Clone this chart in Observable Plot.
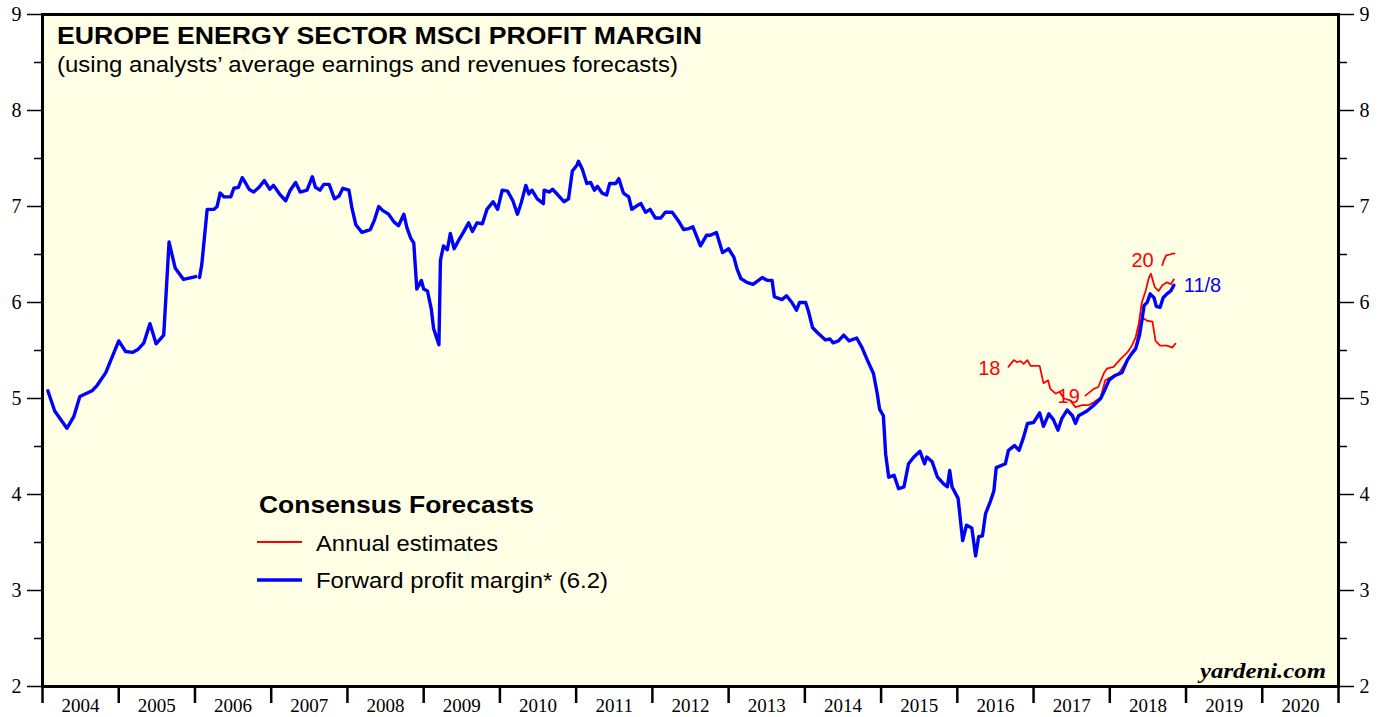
<!DOCTYPE html>
<html><head><meta charset="utf-8">
<script src="https://cdn.jsdelivr.net/npm/d3@7"></script>
<script src="https://cdn.jsdelivr.net/npm/@observablehq/plot@0.6"></script>
<style>html,body{margin:0;padding:0;background:#fff;overflow:hidden}</style>
</head><body><div id="chart"></div>
<script>
// Forward profit margin (blue), decimal year / percent
const blueT = [
2004.07,2004.16,2004.32,2004.41,2004.49,2004.65,2004.72,2004.83,2005.00,2005.09,2005.18,2005.25,2005.33,2005.41,2005.49,2005.59,2005.66,2005.74,2005.85,2006.01,
2006.03,
2006.06,2006.09,2006.16,2006.25,2006.29,2006.33,2006.38,2006.47,2006.51,2006.57,2006.62,2006.66,2006.71,2006.77,2006.84,2006.91,2006.98,
2007.03,2007.11,2007.19,2007.25,2007.32,2007.38,2007.47,2007.54,2007.58,2007.64,2007.69,2007.76,2007.83,2007.89,2007.94,
2008.02,2008.06,2008.11,2008.19,2008.30,2008.35,2008.41,2008.46,2008.54,2008.61,2008.67,2008.74,2008.78,2008.83,2008.87,2008.91,2008.97,
2009.00,2009.05,2009.10,2009.13,2009.20,2009.22,2009.26,2009.31,2009.35,2009.40,2009.46,2009.52,2009.59,2009.64,2009.70,2009.77,2009.83,2009.91,2009.97,
2010.03,2010.10,2010.17,2010.23,2010.28,2010.34,2010.38,2010.42,2010.49,2010.57,2010.58,2010.65,2010.69,2010.75,2010.84,2010.90,2010.95,
2011.01,2011.03,2011.08,2011.14,2011.19,2011.24,2011.28,2011.34,2011.40,2011.44,2011.52,2011.56,2011.62,2011.69,2011.73,2011.80,2011.85,2011.91,2011.97,
2012.04,2012.11,2012.17,2012.26,2012.35,2012.41,2012.48,2012.53,2012.63,2012.71,2012.76,2012.84,2012.92,
2013.00,2013.07,2013.11,2013.16,2013.24,2013.32,2013.44,2013.51,2013.57,2013.60,2013.70,2013.76,2013.83,2013.89,2013.93,
2014.01,2014.05,2014.10,2014.16,2014.27,2014.33,2014.37,2014.44,2014.51,2014.58,2014.68,2014.75,2014.82,2014.90,2014.95,2014.98,
2015.03,2015.06,2015.10,2015.17,2015.23,2015.30,2015.36,2015.43,2015.51,2015.57,2015.60,2015.67,2015.74,2015.82,2015.87,2015.90,2015.93,
2016.01,2016.07,2016.12,2016.19,2016.24,2016.28,2016.33,2016.37,2016.43,2016.48,2016.51,2016.63,2016.67,2016.75,2016.81,2016.87,2016.92,
2017.00,2017.08,2017.13,2017.20,2017.26,2017.32,2017.37,2017.44,2017.51,2017.55,2017.59,2017.70,2017.79,2017.88,2017.94,2017.99,
2018.07,2018.16,2018.23,2018.29,2018.34,2018.39,2018.42,2018.45,2018.49,2018.53,2018.58,2018.61,2018.66,2018.70,2018.75,2018.80,2018.84
];
const blueV = [
5.08,4.87,4.69,4.81,5.02,5.08,5.14,5.27,5.60,5.49,5.48,5.51,5.58,5.78,5.57,5.66,6.63,6.36,6.24,6.27,
NaN,
6.26,6.40,6.97,6.97,7.00,7.14,7.10,7.10,7.19,7.20,7.30,7.25,7.18,7.15,7.20,7.27,7.18,
7.22,7.13,7.06,7.17,7.25,7.15,7.17,7.31,7.20,7.17,7.23,7.23,7.08,7.11,7.19,
7.17,6.98,6.81,6.73,6.76,6.85,7.00,6.96,6.92,6.84,6.80,6.92,6.78,6.67,6.62,6.14,6.23,
6.14,6.12,5.93,5.73,5.56,6.44,6.59,6.55,6.72,6.56,6.65,6.73,6.83,6.74,6.83,6.82,6.97,7.05,6.97,
7.17,7.16,7.06,6.92,7.04,7.22,7.13,7.17,7.08,7.03,7.17,7.15,7.18,7.13,7.05,7.08,7.37,
7.43,7.47,7.39,7.24,7.25,7.17,7.21,7.14,7.12,7.24,7.24,7.29,7.14,7.10,6.97,7.01,7.03,6.94,6.97,
6.88,6.88,6.94,6.94,6.84,6.76,6.77,6.79,6.59,6.70,6.70,6.73,6.52,
6.56,6.47,6.35,6.25,6.21,6.19,6.26,6.23,6.23,6.06,6.03,6.07,6.00,5.92,6.00,
6.00,5.90,5.74,5.69,5.61,5.62,5.58,5.60,5.66,5.60,5.63,5.53,5.40,5.26,5.05,4.89,
4.82,4.42,4.18,4.20,4.06,4.08,4.32,4.39,4.45,4.32,4.39,4.34,4.18,4.11,4.08,4.25,4.08,
3.96,3.52,3.68,3.65,3.36,3.56,3.57,3.80,3.92,4.04,4.28,4.32,4.46,4.51,4.46,4.60,4.74,
4.75,4.85,4.71,4.84,4.78,4.67,4.79,4.88,4.82,4.74,4.82,4.87,4.93,5.00,5.10,5.19,
5.24,5.27,5.40,5.47,5.52,5.66,5.81,5.97,6.00,6.09,6.05,5.96,5.95,6.05,6.09,6.12,6.18
];

// Annual estimates (red)
const est18T = [2016.67,2016.74,2016.78,2016.83,2016.87,2016.92,2016.96,2017.08,2017.13,2017.19,2017.22,2017.29,2017.34,2017.40,2017.48,2017.55,2017.64,2017.72,2017.79,2017.88,2017.94,2018.01,2018.12,2018.21,2018.27,2018.34,2018.38,2018.40,2018.45,2018.49,2018.56,2018.60,2018.66,2018.75,2018.82,2018.86];
const est18V = [5.33,5.40,5.38,5.39,5.36,5.40,5.34,5.34,5.16,5.19,5.10,5.05,5.07,5.00,4.98,4.91,4.93,4.93,4.96,5.01,5.19,5.22,5.26,5.38,5.45,5.53,5.71,5.81,5.83,5.81,5.80,5.60,5.55,5.55,5.53,5.57];
const est19T = [2017.68,2017.79,2017.85,2017.92,2017.96,2018.05,2018.14,2018.23,2018.29,2018.34,2018.38,2018.42,2018.47,2018.51,2018.54,2018.59,2018.64,2018.69,2018.75,2018.80,2018.84];
const est19V = [5.03,5.10,5.12,5.26,5.31,5.33,5.41,5.48,5.55,5.64,5.78,6.00,6.12,6.25,6.30,6.16,6.12,6.18,6.21,6.19,6.24];
const est20T = [2018.69,2018.71,2018.74,2018.79,2018.82,2018.85];
const est20V = [6.39,6.44,6.49,6.50,6.51,6.51];

const estLabels = ["18","19","20"];
const estLabelT = [2016.42,2017.46,2018.43];
const estLabelV = [5.31,5.02,6.44];
const lastLabel = "11/8";
const lastLabelT = 2018.97;
const lastLabelV = 6.18;

const yMajor = [2,3,4,5,6,7,8,9];
const yMinor = [2.5,3.5,4.5,5.5,6.5,7.5,8.5];
const yearBounds = d3.range(2004, 2022);
const yearLabels = d3.range(2004, 2021);

const titleText = "EUROPE ENERGY SECTOR MSCI PROFIT MARGIN";
const subtitleText = "(using analysts’ average earnings and revenues forecasts)";
const legendTitle = "Consensus Forecasts";
const legendItems = ["Annual estimates", "Forward profit margin* (6.2)"];
const sourceText = "yardeni.com";

const BG = "#ffffe6";
const RED = "#ff0000";
const BLUE = "#0000ff";
const SERIF = "'Liberation Serif', 'DejaVu Serif', serif";
const SANS = "'Liberation Sans', Arial, Helvetica, sans-serif";

const blue = blueT.map((t, i) => ({t, v: blueV[i]}));
const red = [
  ...est18T.map((t, i) => ({t, v: est18V[i], s: "18"})),
  ...est19T.map((t, i) => ({t, v: est19V[i], s: "19"})),
  ...est20T.map((t, i) => ({t, v: est20V[i], s: "20"}))
];
const labels = estLabels.map((s, i) => ({s, t: estLabelT[i], v: estLabelV[i]}));

const chart = Plot.plot({
  width: 1384,
  height: 717,
  marginLeft: 42,
  marginRight: 46,
  marginTop: 14,
  marginBottom: 31,
  style: {fontFamily: SERIF, fontSize: "20px", background: "#fff", color: "#000"},
  x: {domain: [2004, 2021], axis: null},
  y: {domain: [2, 9], axis: null},
  marks: [
    Plot.frame({fill: BG, stroke: null}),
    Plot.line(red, {x: "t", y: "v", z: "s", stroke: RED, strokeWidth: 1.8, strokeLinejoin: "round"}),
    Plot.line(blue, {x: "t", y: "v", stroke: BLUE, strokeWidth: 3.4, strokeLinejoin: "round", strokeLinecap: "round"}),
    Plot.text(labels, {x: "t", y: "v", text: "s", fill: RED, fontFamily: SANS, fontSize: 20, textAnchor: "middle"}),
    Plot.text([lastLabel], {x: () => lastLabelT, y: () => lastLabelV, text: d => d, fill: BLUE, fontFamily: SANS, fontSize: 20, textAnchor: "start"}),
    Plot.frame({stroke: "#000", strokeWidth: 3}),
    Plot.axisY({ticks: yMajor, anchor: "left", tickSize: 15, tickPadding: 6, strokeWidth: 1.5, fontSize: 20, label: null, tickFormat: d => String(d)}),
    Plot.axisY({ticks: yMinor, anchor: "left", tickSize: 8, strokeWidth: 1.5, label: null, tickFormat: () => ""}),
    Plot.axisY({ticks: yMajor, anchor: "right", tickSize: 15, tickPadding: 6, strokeWidth: 1.5, fontSize: 20, label: null, tickFormat: d => String(d)}),
    Plot.axisY({ticks: yMinor, anchor: "right", tickSize: 8, strokeWidth: 1.5, label: null, tickFormat: () => ""}),
    Plot.axisX({ticks: yearBounds, anchor: "bottom", tickSize: 17, strokeWidth: 2.5, label: null, tickFormat: () => ""}),
    Plot.axisX({ticks: yearLabels.map(y => y + 0.5), anchor: "bottom", tickSize: 0, tickPadding: 12, fontSize: 19, label: null, tickFormat: d => String(Math.floor(d))})
  ]
});
document.getElementById("chart").appendChild(chart);

const svg = d3.select(chart);
function addText(str, x, y, opts) {
  const t = svg.append("text").attr("x", x).attr("y", y).text(str)
    .attr("text-anchor", "start")
    .attr("font-family", opts.family || SANS)
    .attr("font-size", opts.size)
    .attr("fill", opts.fill || "#000");
  if (opts.weight) t.attr("font-weight", opts.weight);
  if (opts.style) t.attr("font-style", opts.style);
  if (opts.len) t.attr("textLength", opts.len).attr("lengthAdjust", "spacingAndGlyphs");
  return t;
}
addText(titleText, 57, 44, {size: 24, weight: "bold", len: 645});
addText(subtitleText, 57, 72, {size: 22, len: 621});
addText(legendTitle, 259, 513, {size: 24, weight: "bold", len: 275});
svg.append("line").attr("x1", 257).attr("x2", 302).attr("y1", 542).attr("y2", 542).attr("stroke", RED).attr("stroke-width", 1.8);
addText(legendItems[0], 316, 551, {size: 22, len: 182});
svg.append("line").attr("x1", 257).attr("x2", 302).attr("y1", 580).attr("y2", 580).attr("stroke", BLUE).attr("stroke-width", 3.4);
addText(legendItems[1], 316, 588, {size: 22, len: 292});
addText(sourceText, 1200, 678, {size: 20, family: SERIF, weight: "bold", style: "italic", len: 126});
</script></body></html>
